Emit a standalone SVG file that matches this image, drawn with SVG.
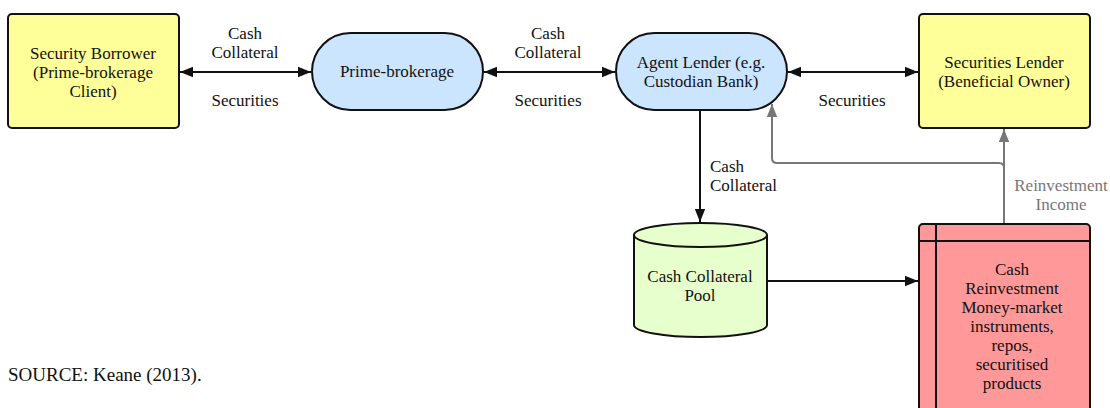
<svg xmlns="http://www.w3.org/2000/svg" width="1110" height="408" viewBox="0 0 1110 408" font-family="Liberation Serif, serif" font-size="17">
<style>
text{font-family:'Liberation Serif',serif;font-size:17px;fill:#111;text-anchor:middle;}
.node{stroke:#111;stroke-width:2;}
.c{fill:none;stroke:#111;stroke-width:2;}
.g{fill:none;stroke:#777;stroke-width:2;}
.gt{fill:#777;}
</style>
<defs>
<marker id="ahb" viewBox="0 0 10 10" refX="10" refY="5" markerWidth="13" markerHeight="13" orient="auto-start-reverse" markerUnits="userSpaceOnUse">
<path d="M0,1 L10,5 L0,9 z" fill="#111"/>
</marker>
<marker id="ahg" viewBox="0 0 10 10" refX="10" refY="5" markerWidth="13" markerHeight="13" orient="auto" markerUnits="userSpaceOnUse">
<path d="M0,1 L10,5 L0,9 z" fill="#777"/>
</marker>
</defs>
<rect width="1110" height="408" fill="#fff"/>

<g id="connectors">
<path class="c" d="M180,72 L311,72" marker-start="url(#ahb)" marker-end="url(#ahb)"/>
<path class="c" d="M484,72 L615,72" marker-start="url(#ahb)" marker-end="url(#ahb)"/>
<path class="c" d="M788,72 L918,72" marker-start="url(#ahb)" marker-end="url(#ahb)"/>
<path class="c" d="M700,111 L700,222" marker-end="url(#ahb)"/>
<path class="c" d="M767,281 L918,281" marker-end="url(#ahb)"/>
<path class="g" d="M1004,223 L1004,129" marker-end="url(#ahg)"/>
<path class="g" d="M1004,168 Q1004,163 999,163 L777,163 Q772,163 772,158 L772,104" marker-end="url(#ahg)"/>
<text x="245" y="39">Cash</text>
<text x="245" y="58">Collateral</text>
<text x="245" y="106">Securities</text>
<text x="548" y="39">Cash</text>
<text x="548" y="58">Collateral</text>
<text x="548" y="106">Securities</text>
<text x="852" y="106">Securities</text>
<text x="710" y="172" style="text-anchor:start">Cash</text>
<text x="710" y="191" style="text-anchor:start">Collateral</text>
<text class="gt" x="1061" y="191">Reinvestment</text>
<text class="gt" x="1061" y="210">Income</text>
</g>

<g id="security-borrower">
<rect class="node" x="8" y="14" width="171" height="114" rx="4" fill="#ffff99"/>
<text x="93" y="59">Security Borrower</text>
<text x="93" y="78">(Prime-brokerage</text>
<text x="93" y="97">Client)</text>
</g>

<g id="prime-brokerage">
<rect class="node" x="312" y="33" width="171" height="77" rx="38.5" fill="#cce5ff"/>
<text x="397" y="77">Prime-brokerage</text>
</g>

<g id="agent-lender">
<rect class="node" x="616" y="33" width="171" height="77" rx="38.5" fill="#cce5ff"/>
<text x="701" y="68">Agent Lender (e.g.</text>
<text x="701" y="87">Custodian Bank)</text>
</g>

<g id="securities-lender">
<rect class="node" x="919" y="14" width="171" height="114" rx="4" fill="#ffff99"/>
<text x="1004" y="68">Securities Lender</text>
<text x="1004" y="87">(Beneficial Owner)</text>
</g>

<g id="cash-collateral-pool">
<path class="node" d="M634,235 L634,325 A66.5,12 0 0 0 767,325 L767,235 A66.5,12 0 0 0 634,235 Z" fill="#e6ffcc"/>
<path class="node" d="M634,235 A66.5,12 0 0 0 767,235" fill="none"/>
<text x="700" y="282">Cash Collateral</text>
<text x="700" y="301">Pool</text>
</g>

<g id="cash-reinvestment">
<rect class="node" x="919" y="224" width="171" height="200" rx="4" fill="#ff9999"/>
<line class="node" x1="936" y1="224" x2="936" y2="410"/>
<line class="node" x1="919" y1="241" x2="1090" y2="241"/>
<text x="1012" y="275">Cash</text>
<text x="1012" y="294">Reinvestment</text>
<text x="1012" y="313">Money-market</text>
<text x="1012" y="332">instruments,</text>
<text x="1012" y="351">repos,</text>
<text x="1012" y="370">securitised</text>
<text x="1012" y="389">products</text>
</g>

<text x="8" y="381" style="text-anchor:start;font-size:19px">SOURCE: Keane (2013).</text>
</svg>
